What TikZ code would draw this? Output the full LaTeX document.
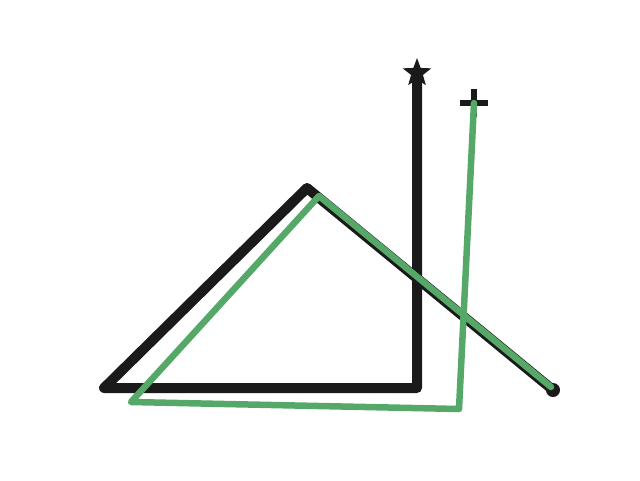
\documentclass[tikz,border=0pt]{standalone}
\usetikzlibrary{shapes.geometric, calc}
\definecolor{darkline}{HTML}{1A1A1A}
\definecolor{sbgreen}{HTML}{55A868}

\begin{document}
\begin{tikzpicture}[x=1pt, y=-1pt, line join=round, line cap=round]
  \useasboundingbox (0,0) rectangle (640,480);
  \coordinate (Top) at (417,76);
  \coordinate (Br) at (417,388);
  \coordinate (Bl) at (104,388);
  \coordinate (Pk) at (307,188);
  \coordinate (End) at (553,390);
  \coordinate (Gt) at (474,103);
  \coordinate (Gbr) at (459,409);
  \coordinate (Gbl) at (131,402);
  \coordinate (Gpk) at (319,196);
  \coordinate (Gend) at (551,387);

  \draw[darkline, line width=10pt] (Top)--(Br)--(Bl)--(Pk)--(End);

  % 端点标记
  \node[star, star points=5, star point ratio=2.4, fill=darkline, inner sep=0pt, minimum size=30pt] (star) at (417,73) {};
  \fill[darkline] (End) circle (7pt);
  \draw[darkline, line width=6pt, line cap=butt] ($(Gt)+(-14,0)$)--($(Gt)+(14,0)$);
  \draw[darkline, line width=6pt, line cap=butt] ($(Gt)+(0,-14)$)--($(Gt)+(0,14)$);

  \draw[sbgreen, line width=6.5pt] (Gt)--(Gbr)--(Gbl)--(Gpk)--(Gend);
\end{tikzpicture}
\end{document}
